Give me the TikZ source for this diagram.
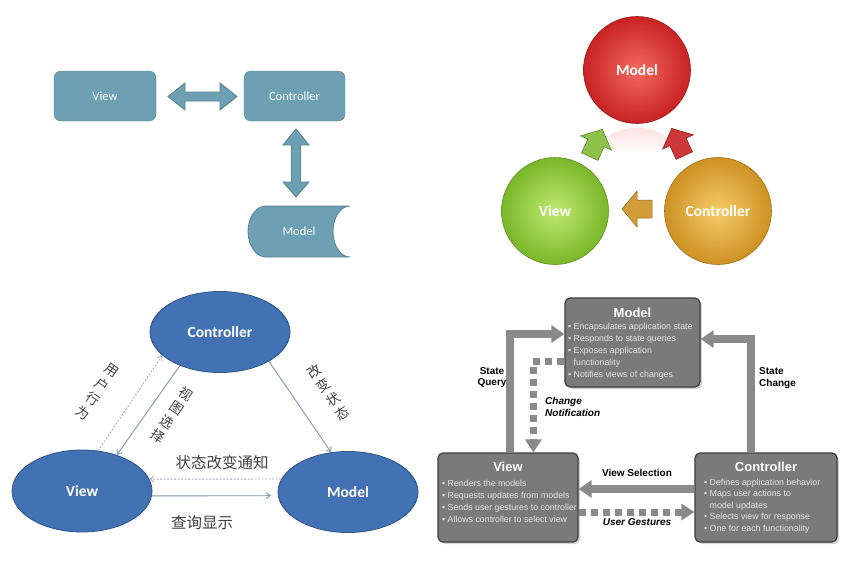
\documentclass[tikz,border=0pt]{standalone}
\usepackage{fontspec}
\setmainfont{Carlito}
\newfontfamily\cjk{Noto Sans CJK SC}
\newfontfamily\arial{Liberation Sans}
\usetikzlibrary{arrows.meta,shadows,calc,shapes.geometric}
\definecolor{teal1}{RGB}{108,160,178}
\definecolor{teal1d}{RGB}{84,130,146}
\definecolor{mred}{RGB}{200,35,35}
\definecolor{mredl}{RGB}{242,105,95}
\definecolor{mgreen}{RGB}{122,182,42}
\definecolor{mgreenl}{RGB}{192,234,112}
\definecolor{morange}{RGB}{205,145,35}
\definecolor{morangel}{RGB}{246,204,105}
\definecolor{eblue}{RGB}{66,114,180}
\definecolor{eblued}{RGB}{45,85,140}
\definecolor{lgray}{RGB}{130,148,168}
\definecolor{dgray}{RGB}{165,176,190}
\definecolor{gbox}{RGB}{122,122,122}
\definecolor{gboxd}{RGB}{62,62,62}
\definecolor{garrow}{RGB}{138,138,138}
\begin{document}
\begin{tikzpicture}[x=1pt,y=-1pt,
  tbox/.style={draw=teal1d, fill=teal1, rounded corners=7pt, minimum width=102pt, minimum height=50pt, inner sep=0pt, text=white, font=\fontsize{12.5}{15}\selectfont},
  tarrow/.style={draw=teal1d, fill=teal1, line width=0.8pt},
  ball/.style={circle, minimum size=107pt, inner sep=0pt, text=white, shade, line width=0.6pt, font=\bfseries\fontsize{15.5}{18}\selectfont},
  ell/.style={ellipse, draw=eblued, fill=eblue, line width=0.8pt, minimum width=140pt, minimum height=81pt, text=white, inner sep=0pt, font=\bfseries\fontsize{15.5}{18}\selectfont},
  thinarr/.style={draw=lgray, line width=0.9pt, -{Straight Barb[length=4pt,width=6pt]}},
  thindot/.style={thinarr, draw=dgray, dash pattern=on 2pt off 1.5pt},
  cjklab/.style={font=\cjk\fontsize{13.5}{17}\selectfont, text=black!75, align=center, inner sep=0pt},
  gboxs/.style={draw=gboxd, fill=gbox, line width=1.2pt, rounded corners=5pt, inner sep=0pt, minimum height=89pt, drop shadow={shadow xshift=2pt, shadow yshift=-2pt, opacity=0.35}},
  gtitle/.style={font=\arial\bfseries\fontsize{13}{15}\selectfont, text=white, inner sep=0pt},
  gtext/.style={font=\arial\fontsize{8.8}{12}\selectfont, text=white!90!black, align=left, inner sep=0pt, anchor=north west},
  garr/.style={draw=garrow, line width=8pt, -{Triangle[length=13pt,width=17pt]}},
  gdot/.style={draw=garrow, line width=7pt, dash pattern=on 7pt off 5pt, -{Triangle[length=13pt,width=16pt]}},
  glab/.style={font=\arial\bfseries\fontsize{10}{11.5}\selectfont, inner sep=0pt, align=center}
]
\useasboundingbox[fill=white] (0,0) rectangle (844,579);

% ---------- Quadrant 1 ----------
\node[tbox] (v1) at (105,96) {View};
\node[tbox, minimum width=101pt] (c1) at (294.5,96) {Controller};
\draw[tarrow] (350,206) -- (266,206) .. controls (256,206) and (248,217.4) .. (248,231.5)
  .. controls (248,245.6) and (256,257) .. (266,257) -- (350,257)
  .. controls (340.6,257) and (333,245.6) .. (333,231.5)
  .. controls (333,217.4) and (340.6,206) .. cycle;
\node[text=white, font=\fontsize{12.5}{15}\selectfont, inner sep=0pt] (m1) at (299,231.5) {Model};
% horizontal double arrow
\draw[tarrow] (168,96.5) -- (185,83) -- (185,92) -- (220,92) -- (220,83) -- (237,96.5)
  -- (220,110) -- (220,101) -- (185,101) -- (185,110) -- cycle;
% vertical double arrow
\draw[tarrow] (296,129) -- (309,145) -- (300.5,145) -- (300.5,182) -- (309,182) -- (296,197)
  -- (283,182) -- (291.5,182) -- (291.5,145) -- (283,145) -- cycle;

% ---------- Quadrant 2 ----------
\shade[top color=red!12, bottom color=white] (637,141) ellipse [x radius=30, y radius=13];
\node[ball, inner color=mredl, outer color=mred, draw=mred!80!black] (m2) at (637,70) {Model};
\node[ball, inner color=mgreenl, outer color=mgreen, draw=mgreen!80!black] (v2) at (555,211) {View};
\node[ball, inner color=morangel, outer color=morange, draw=morange!80!black] (c2) at (718,211) {Controller};
\begin{scope}[shift={(596,143)}, rotate=65]
  \filldraw[fill=mgreen!85!white, draw=mgreen!70!black, line width=0.5pt]
    (-15,-9) -- (0,-9) -- (0,-17) -- (15,0) -- (0,17) -- (0,9) -- (-15,9) -- cycle;
\end{scope}
\begin{scope}[shift={(678,142)}, rotate=115]
  \filldraw[fill=mred!90!white, draw=mred!70!black, line width=0.5pt]
    (-15,-9) -- (0,-9) -- (0,-17) -- (15,0) -- (0,17) -- (0,9) -- (-15,9) -- cycle;
\end{scope}
\begin{scope}[shift={(637,209)}, rotate=180]
  \filldraw[fill=morange!90!white, draw=morange!70!black, line width=0.5pt]
    (-15,-9) -- (0,-9) -- (0,-18) -- (15,0) -- (0,18) -- (0,9) -- (-15,9) -- cycle;
\end{scope}

% ---------- Quadrant 3 ----------
\node[ell] (c3) at (220,332) {Controller};
\node[ell, minimum height=82pt] (v3) at (82,491) {View};
\node[ell] (m3) at (348,492) {Model};
\draw[thindot] (v3.68) -- (c3.202);
\draw[thinarr] (c3.220) -- (v3.46);
\draw[thinarr] (c3.329) -- (m3.113);
\draw[thindot] (m3.169) -- (v3.10);
\draw[thinarr, shorten >=7pt] (v3.356) -- (m3.183);
\node[cjklab, rotate=-34] (l1) at (97,392) {用\\户\\行\\为};
\node[cjklab, rotate=-34] (l2) at (172,415) {视\\图\\选\\择};
\node[cjklab, rotate=34] (l3) at (328,392) {改\\变\\状\\态};
\node[cjklab, font=\cjk\fontsize{15.5}{17}\selectfont] (l4) at (222,463) {状态改变通知};
\node[cjklab, font=\cjk\fontsize{15.5}{17}\selectfont] (l5) at (202,523) {查询显示};

% ---------- Quadrant 4 ----------
\node[gboxs, minimum width=135pt] (m4) at (632.5,342.5) {};
\node[gboxs, minimum width=140pt] (v4) at (508,497.5) {};
\node[gboxs, minimum width=142pt] (c4) at (766,497.5) {};
\node[gtitle] (m4t) at (632.5,313) {Model};
\node[gtitle] (v4t) at (508,467) {View};
\node[gtitle] (c4t) at (766,467) {Controller};
\node[gtext] (m4b) at (568,322.5) {• Encapsulates application state\\• Responds to state queries\\• Exposes application\\\hphantom{• }functionality\\• Notifies views of changes};
\node[gtext, font=\arial\fontsize{8.8}{12.3}\selectfont] (v4b) at (442,479.5) {• Renders the models\\• Requests updates from models\\• Sends user gestures to controller\\• Allows controller to select view};
\node[gtext, font=\arial\fontsize{8.8}{11.6}\selectfont] (c4b) at (704,478.5) {• Defines application behavior\\• Maps user actions to\\\hphantom{• }model updates\\• Selects view for response\\• One for each functionality};
\draw[garr] ($(v4.north west)+(73,0)$) |- ($(m4.west)+(0,-8.5)$);
\draw[garr] ($(c4.north west)+(57,0)$) |- ($(m4.east)+(0,-3.5)$);
\draw[gdot] ($(m4.west)+(0,19)$) -| ($(v4.north west)+(96,0)$);
\draw[garr] ($(c4.west)+(0,-8.5)$) -- ($(v4.east)+(0,-8.5)$);
\draw[gdot] ($(v4.east)+(0,14.5)$) -- ($(c4.west)+(0,14.5)$);
\node[glab] (sq) at (492,377.5) {State\\Query};
\node[glab, align=left, anchor=west] (sc) at (759,378) {State\\Change};
\node[glab, font=\arial\bfseries\itshape\fontsize{10}{12}\selectfont, align=left, anchor=west] (cn) at (545,407) {Change\\Notification};
\node[glab] (vs) at (637,473) {View Selection};
\node[glab, font=\arial\bfseries\itshape\fontsize{10}{12}\selectfont] (ug) at (637,522) {User Gestures};
\end{tikzpicture}
\end{document}
